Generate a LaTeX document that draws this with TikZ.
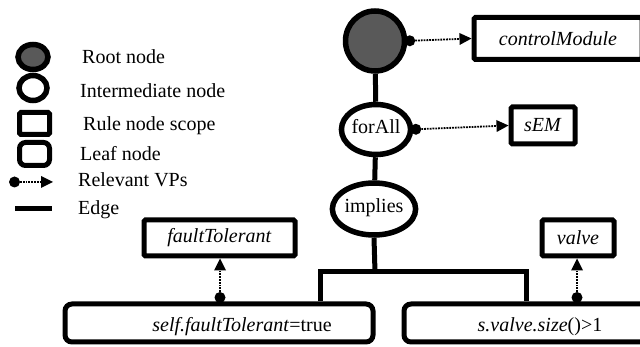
\documentclass[tikz,border=0pt]{standalone}
\usepackage{fontspec}
\setmainfont{Liberation Serif}
\usetikzlibrary{arrows.meta,shapes.geometric}
\begin{document}
\begin{tikzpicture}[x=1pt,y=-1pt,
  lbl/.style={font=\fontsize{20}{24}\selectfont},
  rootnode/.style={ellipse,draw,line width=5.5pt,fill=black!65,inner sep=0pt},
  midnode/.style={ellipse,draw,line width=5.5pt,fill=white,inner sep=0pt,lbl,text height=14pt,text depth=6pt},
  scopebox/.style={rectangle,draw,line width=5pt,rounded corners=1.5pt,inner sep=0pt,lbl},
  leafbox/.style={rectangle,draw,line width=5pt,rounded corners=7pt,inner sep=0pt,lbl},
  edge/.style={line width=5pt},
  vp/.style={line width=1.8pt,densely dotted,
    {Circle[length=11pt,width=11pt,line width=0pt,sep=0pt]}-{Triangle[length=12pt,width=12pt,line width=0pt]}},
  legtext/.style={lbl,anchor=base west,inner sep=0pt}]
\clip (0,0) rectangle (640,347);
\fill[white] (0,0) rectangle (640,347);

% ---- legend ----
\node[rootnode,minimum width=30pt,minimum height=25pt] (lgroot) at (33,57) {};
\node[midnode,minimum width=28pt,minimum height=25pt,text height=0pt,text depth=0pt] (lgmid) at (33,88) {};
\node[scopebox,minimum width=30pt,minimum height=22pt] (lgscope) at (34.5,123.5) {};
\node[leafbox,minimum width=30pt,minimum height=23pt,rounded corners=6pt] (lgleaf) at (34.5,154) {};
\coordinate (lgvpa) at (9,182);
\coordinate (lgvpb) at (53,182);
\draw[vp] (lgvpa) -- (lgvpb);
\coordinate (lgea) at (15,209);
\coordinate (lgeb) at (52,209);
\draw[edge] (lgea) -- (lgeb);

\node[legtext] (tr) at (82,64) {Root node};
\node[legtext] (ti) at (80,98) {Intermediate node};
\node[legtext] (ts) at (83,131) {Rule node scope};
\node[legtext] (tl) at (80,161) {Leaf node};
\node[legtext] (tv) at (78,187) {Relevant VPs};
\node[legtext] (te) at (78,215) {Edge};

% ---- rule tree ----
\node[rootnode,minimum width=59pt,minimum height=60pt] (root) at (375,41) {};
\node[midnode,minimum width=59pt,minimum height=50pt] (forall) at (376,129.5) {forAll};
\node[midnode,minimum width=63pt,minimum height=52pt] (implies) at (374,209) {implies};

\node[scopebox,minimum width=168pt,minimum height=42pt] (cm) at (558,38.5) {\textit{controlModule}};
\node[scopebox,minimum width=64pt,minimum height=37pt] (sem) at (543,125.5) {\textit{sEM}};
\node[scopebox,minimum width=151pt,minimum height=36pt] (ft) at (219.5,238) {\textit{faultTolerant}};
\node[scopebox,minimum width=72pt,minimum height=36pt] (valve) at (578,238) {\textit{valve}};

\node[leafbox,minimum width=308pt,minimum height=38pt] (leafa) at (219,323) {};
\node[lbl,anchor=base,inner sep=0pt] (leafatext) at (242,332) {\textit{self.faultTolerant}=true};
\node[leafbox,minimum width=272pt,minimum height=38pt] (leafb) at (540,323) {};
\node[lbl,anchor=base,inner sep=0pt] (leafbtext) at (540,332) {\textit{s.valve.size}()>1};

% edges
\draw[edge] (root) -- (forall);
\draw[edge] (forall) -- (implies);
\coordinate (jc) at (375,272);
\coordinate (jl) at (320,272);
\coordinate (jr) at (526,272);
\draw[edge] (implies.south) -- (jc);
\draw[edge,line join=miter] (leafa.north -| jl) -- (jl) -- (jr) -- (leafb.north -| jr);

% relevant variation points
\draw[vp] ([xshift=-3pt]root.east) -- (cm.west);
\draw[vp] ([xshift=-3pt]forall.east) -- (sem.west);
\coordinate (vpa) at (220,303);
\coordinate (vpb) at (577,303);
\draw[vp] (vpa) -- (vpa |- ft.south);
\draw[vp] (vpb) -- (vpb |- valve.south);
\end{tikzpicture}
\end{document}
